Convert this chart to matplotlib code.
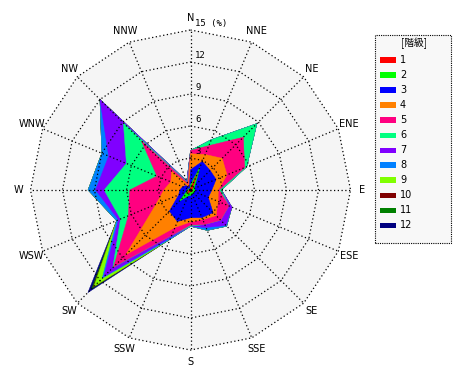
import numpy as np
import matplotlib
matplotlib.use("Agg")
import matplotlib.pyplot as plt
from matplotlib.patches import Rectangle

plt.rcParams['font.family'] = ['DejaVu Sans']

# 16 wind directions, clockwise from north
dirs = ['N', 'NNE', 'NE', 'ENE', 'E', 'ESE', 'SE', 'SSE',
        'S', 'SSW', 'SW', 'WSW', 'W', 'WNW', 'NW', 'NNW']

# frequency (%) of each class per direction
cls1 = [0.2, 1.7, 0.3, 0.2, 0.2, 0.2, 0.2, 0.2, 0.2, 0.2, 0.5, 0.2, 0.2, 0.1, 0.1, 0.05]
cls2 = [0.3, 0.6, 0.3, 0.2, 0.2, 0.2, 0.2, 0.2, 0.3, 0.4, 1.0, 0.2, 0.1, 0.1, 0.1, 0.05]
cls3 = [1.4, 0.6, 2.0, 2.2, 1.6, 1.4, 2.6, 2.4, 2.1, 2.6, 1.3, 0.8, 0.7, 0.6, 0.4, 0.2]
cls4 = [1.5, 0.7, 1.6, 1.1, 0.6, 1.0, 0.4, 0.2, 0.4, 0.6, 5.8, 2.3, 1.5, 1.2, 1.9, 0.2]
cls5 = [0.3, 0.9, 2.8, 1.8, 0.1, 1.1, 0.6, 0.5, 0.3, 0.8, 1.6, 2.8, 3.2, 1.4, 4.0, 0.2]
cls6 = [0.0, 0.6, 1.8, 0.2, 0.2, 0.0, 0.0, 0.0, 0.1, 0.0, 0.1, 0.8, 2.4, 3.1, 2.4, 0.1]
cls7 = [0.0, 0.0, 0.0, 0.0, 0.0, 0.3, 0.7, 0.3, 0.0, 0.2, 1.2, 0.2, 0.8, 1.8, 3.1, 0.1]
cls8 = [0.0, 0.0, 0.0, 0.0, 0.0, 0.0, 0.1, 0.3, 0.0, 0.2, 0.2, 0.2, 0.7, 0.7, 0.0, 0.0]
cls9 = [0.0, 0.0, 0.0, 0.0, 0.0, 0.0, 0.0, 0.0, 0.0, 0.0, 1.1, 0.0, 0.0, 0.0, 0.0, 0.0]
cls10 = [0.0, 0.0, 0.0, 0.0, 0.0, 0.0, 0.0, 0.0, 0.0, 0.0, 0.1, 0.0, 0.0, 0.0, 0.0, 0.0]
cls11 = [0.0, 0.0, 0.0, 0.0, 0.0, 0.0, 0.0, 0.0, 0.0, 0.0, 0.2, 0.0, 0.0, 0.0, 0.0, 0.0]
cls12 = [0.0, 0.0, 0.0, 0.0, 0.0, 0.0, 0.0, 0.0, 0.0, 0.0, 0.5, 0.0, 0.0, 0.0, 0.0, 0.0]

class_labels = ['1', '2', '3', '4', '5', '6', '7', '8', '9', '10', '11', '12']
class_colors = ['#ff0000', '#00ff00', '#0000ff', '#ff8000', '#ff0080', '#00ff80',
                '#8000ff', '#0080ff', '#80ff00', '#800000', '#008000', '#000080']
rings = [3, 6, 9, 12, 15]

classes = [cls1, cls2, cls3, cls4, cls5, cls6, cls7, cls8, cls9, cls10, cls11, cls12]
cum = np.cumsum(np.array(classes), axis=0)

theta = np.deg2rad(np.arange(len(dirs)) * 360 / len(dirs))


def to_xy(r):
    r = np.asarray(r, dtype=float)
    return r * np.sin(theta), r * np.cos(theta)


fig = plt.figure(figsize=(4.7, 3.8), dpi=100)
ax = fig.add_axes([0, 0, 1, 1])
px = 10.67  # pixels per percent
ax.set_xlim(-190.5 / px, (470 - 190.5) / px)
ax.set_ylim(-190 / px, 190 / px)
ax.set_aspect('equal')
ax.axis('off')

# plot area background
bx, by = to_xy([15] * len(dirs))
ax.fill(bx, by, color='#f5f5f5', lw=0, zorder=0)

# stacked (cumulative) polygons, biggest first
for k in range(len(classes) - 1, -1, -1):
    x, y = to_xy(cum[k])
    ax.fill(x, y, color=class_colors[k], lw=0.3, ec=class_colors[k], zorder=1 + (11 - k) * 0.01)

# grid
dot = (0, (1, 2))
for r in rings:
    x, y = to_xy([r] * len(dirs))
    ax.plot(np.append(x, x[0]), np.append(y, y[0]), color='black', lw=0.9, ls=dot, zorder=3)
for t in theta:
    ax.plot([0, 15 * np.sin(t)], [0, 15 * np.cos(t)], color='black', lw=0.9, ls=dot, zorder=3)

for r in rings:
    lab = '15 (%)' if r == 15 else str(r)
    ax.text(0.45, r + 0.15, lab, fontsize=6.5, ha='left', va='bottom', zorder=4,
            family='DejaVu Sans Mono')

for d, t in zip(dirs, theta):
    rl = 16.1
    ax.text(rl * np.sin(t), rl * np.cos(t), d, fontsize=7, ha='center', va='center')

# legend box
W, H = 470, 380
fig.patches.append(Rectangle((375 / W, 1 - 243 / H), 76 / W, 208 / H, transform=fig.transFigure,
                             facecolor='#f8f8f8', edgecolor='black', lw=0.8, ls=(0, (1, 1))))
fig.text(414 / W, 1 - 43 / H, '[階級]', fontsize=7, ha='center', va='center',
         family=['Noto Sans CJK JP', 'DejaVu Sans'])
for i, (lab, col) in enumerate(zip(class_labels, class_colors)):
    yc = 60 + i * 15
    fig.patches.append(Rectangle((380 / W, 1 - (yc + 2.5) / H), 16 / W, 5 / H,
                                 transform=fig.transFigure, facecolor=col, lw=0))
    fig.text(400 / W, 1 - yc / H, lab, fontsize=7, ha='left', va='center')

fig.savefig('out.png', dpi=100)
